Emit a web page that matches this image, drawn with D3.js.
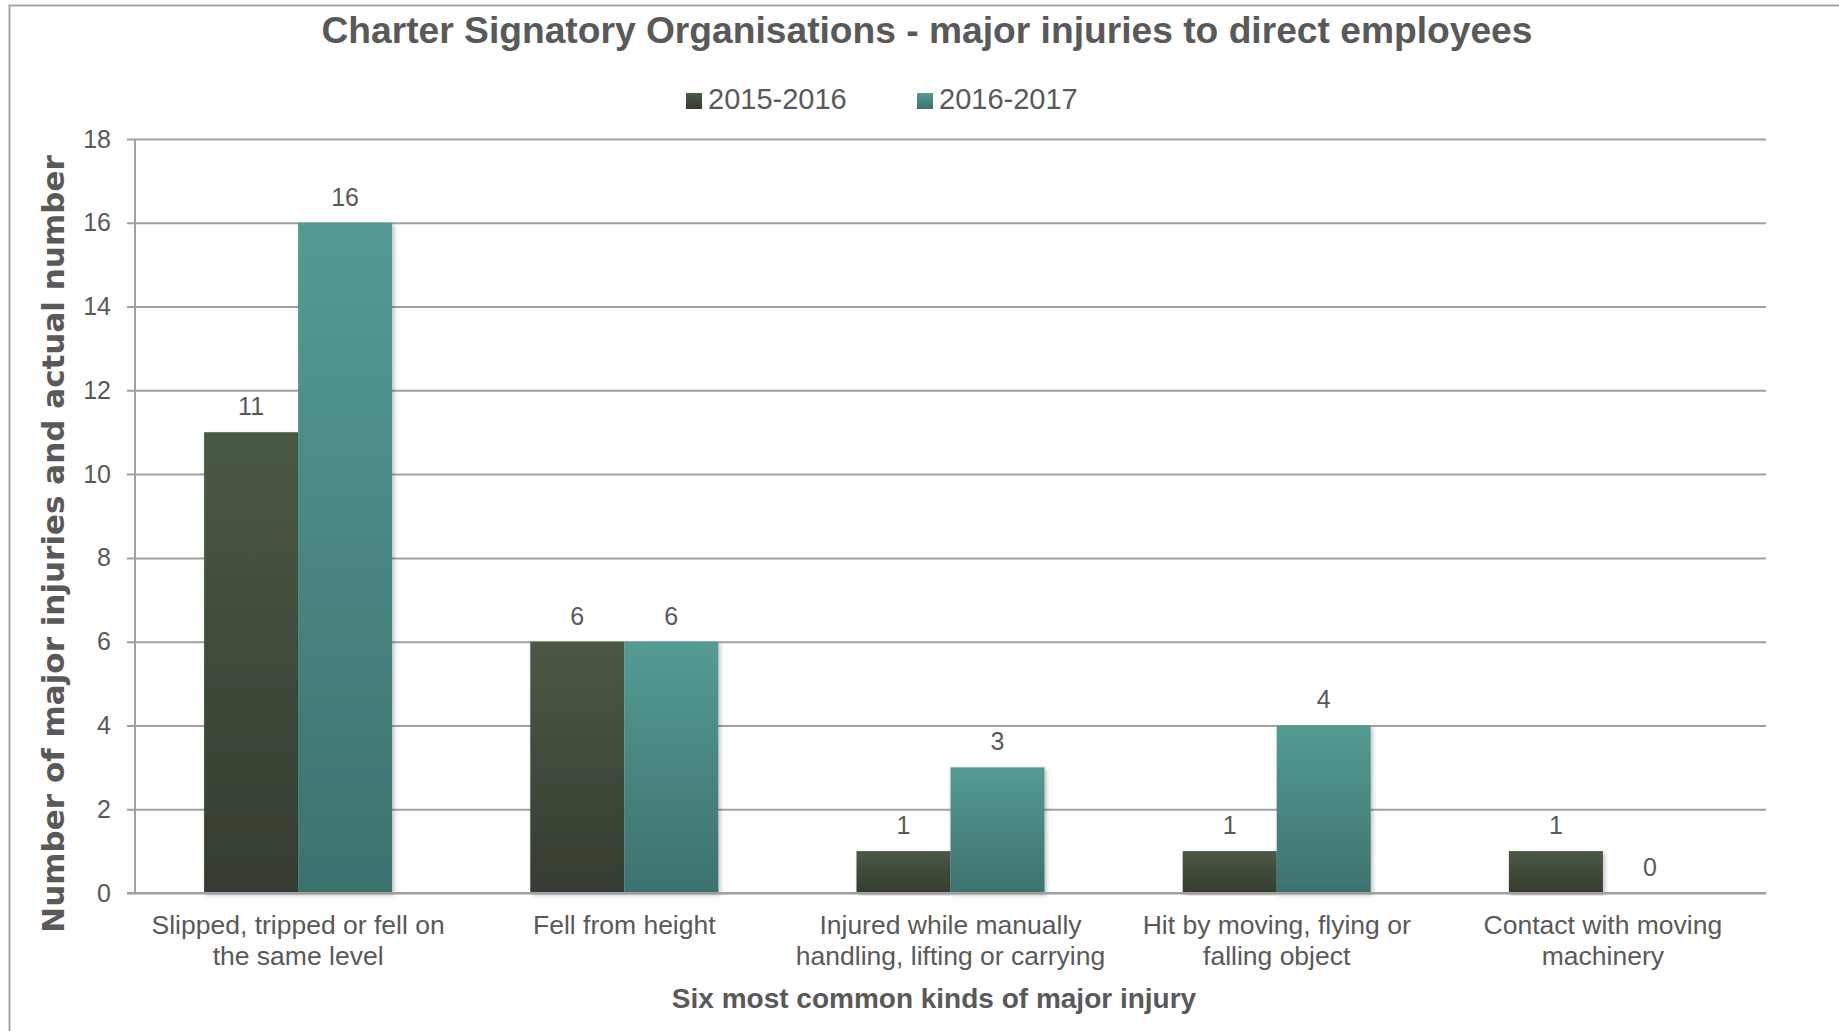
<!DOCTYPE html>
<html>
<head>
<meta charset="utf-8">
<script src="https://cdn.jsdelivr.net/npm/d3@7"></script>
<style>
  body { margin: 0; background: #fff; }
  text { font-family: "Liberation Sans", Arial, sans-serif; fill: #595959; }
</style>
</head>
<body>
<svg id="chart" width="1839" height="1031"></svg>
<script>
// data
var categories = [
    ['Slipped, tripped or fell on', 'the same level'],
    ['Fell from height'],
    ['Injured while manually', 'handling, lifting or carrying'],
    ['Hit by moving, flying or', 'falling object'],
    ['Contact with moving', 'machinery']
];
var seriesNames = ['2015-2016', '2016-2017'];
var values2015 = [11, 6, 1, 1, 1];
var values2016 = [16, 6, 3, 4, 0];
var yTicks = [0, 2, 4, 6, 8, 10, 12, 14, 16, 18];

var svg = d3.select('#chart');
var margin = { left: 135, right: 1766, top: 139, bottom: 893 };

// градиенты и тень
var defs = svg.append('defs');
var grads = [
    { id: 'gDark', top: '#4a5945', bottom: '#343d30' },
    { id: 'gTeal', top: '#549b94', bottom: '#3d716e' }
];
grads.forEach(function (gd) {
    var lg = defs.append('linearGradient')
        .attr('id', gd.id)
        .attr('x1', 0).attr('y1', 0).attr('x2', 0).attr('y2', 1);
    lg.append('stop').attr('offset', '0%').attr('stop-color', gd.top);
    lg.append('stop').attr('offset', '100%').attr('stop-color', gd.bottom);
});
defs.append('filter')
    .attr('id', 'shadow')
    .attr('x', '-20%').attr('y', '-5%').attr('width', '140%').attr('height', '110%')
    .append('feDropShadow')
    .attr('dx', 2).attr('dy', 2).attr('stdDeviation', 2)
    .attr('flood-color', '#000').attr('flood-opacity', 0.25);

// рамка
svg.append('rect')
    .attr('x', 9.5).attr('y', 5.5)
    .attr('width', 1840).attr('height', 1030)
    .attr('fill', 'none')
    .attr('stroke', '#a6a6a6')
    .attr('stroke-width', 2);

var x0 = d3.scaleBand()
    .domain(d3.range(categories.length))
    .range([margin.left, margin.right])
    .padding(0);

var x1 = d3.scaleBand()
    .domain([0, 1])
    .range([0, x0.bandwidth()])
    .paddingInner(0)
    .paddingOuter(0.735);

var y = d3.scaleLinear()
    .domain([0, 18])
    .range([margin.bottom, margin.top]);

// сетка и ось Y
var yAxis = d3.axisLeft(y)
    .tickValues(yTicks)
    .tickSize(-(margin.right - margin.left))
    .tickSizeOuter(0)
    .tickPadding(24)
    .tickFormat(d3.format('d'));

var yG = svg.append('g')
    .attr('transform', 'translate(' + margin.left + ',0)')
    .call(yAxis);
yG.select('.domain').remove();
yG.selectAll('.tick line')
    .attr('x1', -8)
    .attr('stroke', '#a0a0a0')
    .attr('stroke-width', 2);
yG.selectAll('.tick text')
    .attr('x', -24)
    .style('font-size', '25px')
    .style('font-family', '"Liberation Sans", Arial, sans-serif')
    .attr('fill', '#595959');

// вертикальная ось
svg.append('line')
    .attr('x1', margin.left).attr('x2', margin.left)
    .attr('y1', margin.top).attr('y2', margin.bottom)
    .attr('stroke', '#a0a0a0')
    .attr('stroke-width', 2);

// столбцы
var rows = categories.map(function (c, i) {
    return [values2015[i], values2016[i]];
});

var groups = svg.selectAll('.cat')
    .data(rows)
    .enter()
    .append('g')
    .attr('class', 'cat')
    .attr('transform', function (d, i) { return 'translate(' + x0(i) + ',0)'; });

groups.selectAll('rect')
    .data(function (d) { return d; })
    .enter()
    .append('rect')
    .attr('x', function (d, j) { return x1(j); })
    .attr('y', function (d) { return y(d); })
    .attr('width', x1.bandwidth())
    .attr('height', function (d) { return y(0) - y(d); })
    .attr('fill', function (d, j) { return j === 0 ? 'url(#gDark)' : 'url(#gTeal)'; })
    .attr('filter', 'url(#shadow)');

// подписи значений
groups.selectAll('.val')
    .data(function (d) { return d; })
    .enter()
    .append('text')
    .attr('class', 'val')
    .attr('x', function (d, j) { return x1(j) + x1.bandwidth() / 2; })
    .attr('y', function (d) { return y(d) - 17; })
    .attr('text-anchor', 'middle')
    .style('font-size', '25px')
    .text(function (d) { return d; });

// ось X
svg.append('line')
    .attr('x1', margin.left - 8).attr('x2', margin.right)
    .attr('y1', margin.bottom).attr('y2', margin.bottom)
    .attr('stroke', '#a0a0a0')
    .attr('stroke-width', 2);

// подписи категорий
categories.forEach(function (lines, i) {
    var t = svg.append('text')
        .attr('text-anchor', 'middle')
        .style('font-size', '26.5px');
    lines.forEach(function (ln, k) {
        t.append('tspan')
            .attr('x', x0(i) + x0.bandwidth() / 2)
            .attr('y', 934 + k * 31)
            .text(ln);
    });
});

// заголовок
svg.append('text')
    .attr('x', 927)
    .attr('y', 43)
    .attr('text-anchor', 'middle')
    .style('font-size', '37.2px')
    .style('font-weight', 'bold')
    .text('Charter Signatory Organisations - major injuries to direct employees');

// легенда
var legendX = [686, 917];
seriesNames.forEach(function (name, i) {
    svg.append('rect')
        .attr('x', legendX[i]).attr('y', 93)
        .attr('width', 16).attr('height', 16)
        .attr('fill', i === 0 ? 'url(#gDark)' : 'url(#gTeal)');
    svg.append('text')
        .attr('x', legendX[i] + 22)
        .attr('y', 109)
        .style('font-size', '29px')
        .text(name);
});

// подпись оси X
svg.append('text')
    .attr('x', 934)
    .attr('y', 1008)
    .attr('text-anchor', 'middle')
    .style('font-size', '28px')
    .style('font-weight', 'bold')
    .text('Six most common kinds of major injury');

// подпись оси Y
svg.append('text')
    .attr('transform', 'translate(64,' + ((150 + 938) / 2) + ') rotate(-90)')
    .attr('text-anchor', 'middle')
    .style('font-family', '"DejaVu Sans", sans-serif')
    .style('font-size', '31px')
    .style('font-weight', 'bold')
    .text('Number  of major injuries and actual number');
</script>
</body>
</html>
